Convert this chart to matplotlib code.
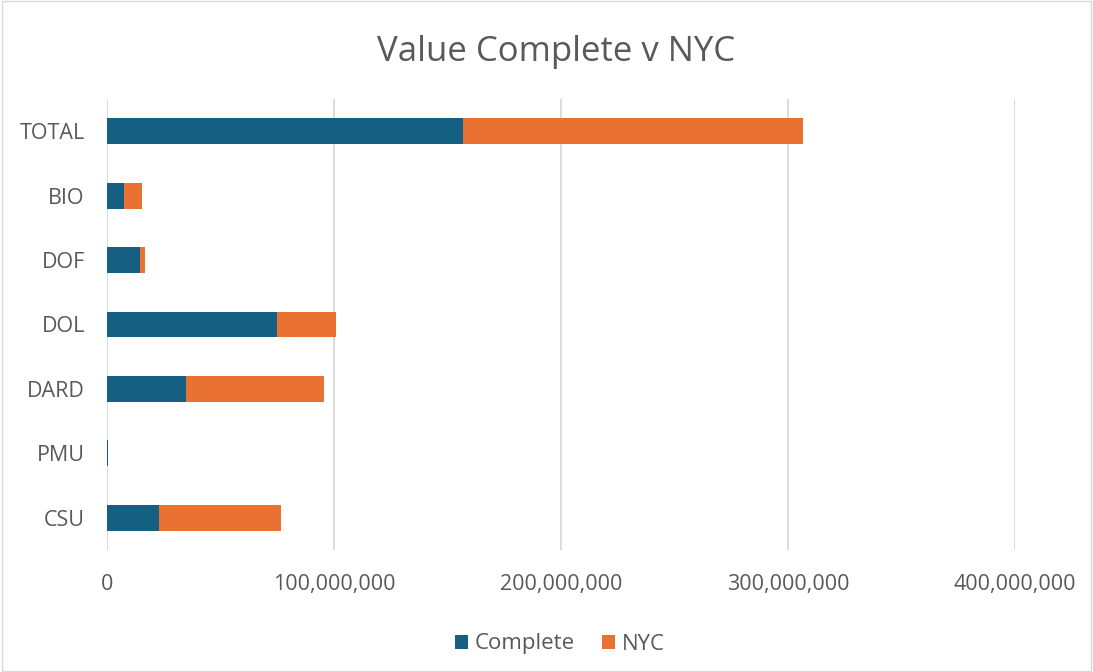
import matplotlib.pyplot as plt
from matplotlib.ticker import FuncFormatter

plt.rcParams['font.family'] = ['Open Sans', 'DejaVu Sans']

categories = ['CSU', 'PMU', 'DARD', 'DOL', 'DOF', 'BIO', 'TOTAL']
complete = [22.8e6, 0.4e6, 35.0e6, 75.1e6, 14.6e6, 7.3e6, 156.9e6]
nyc = [53.8e6, 0.0, 60.7e6, 25.8e6, 2.3e6, 7.9e6, 149.8e6]
xticks = [0, 100e6, 200e6, 300e6, 400e6]

blue = '#156082'
orange = '#e97132'
grey = '#595959'

fig = plt.figure(figsize=(10.93, 6.72), dpi=100)
ax = fig.add_axes([107 / 1093, 1 - 550 / 672, (1015 - 107) / 1093, (550 - 99) / 672])

y = range(len(categories))
ax.barh(y, complete, height=0.4, color=blue, label='Complete')
ax.barh(y, nyc, left=complete, height=0.4, color=orange, label='NYC')

ax.set_xlim(0, 400e6)
ax.set_ylim(-0.5, len(categories) - 0.5)
ax.set_xticks(xticks)
ax.xaxis.set_major_formatter(FuncFormatter(lambda v, p: f'{v:,.0f}'))
ax.set_yticks(list(y))
ax.set_yticklabels(categories)
ax.grid(axis='x', color='#d9d9d9', linewidth=1.3)
ax.set_axisbelow(True)
for s in ax.spines.values():
    s.set_visible(False)
ax.tick_params(length=0, labelsize=15.5, labelcolor=grey)
ax.tick_params(axis='x', pad=17)
ax.tick_params(axis='y', pad=16)

fig.text(556 / 1093, 1 - 52 / 672, 'Value Complete v NYC', ha='center', va='center',
         fontsize=25, color=grey)
fig.legend(loc='center', bbox_to_anchor=(560 / 1093, 1 - 644 / 672), ncol=2, frameon=False,
           fontsize=16, labelcolor=grey, handlelength=0.6, handleheight=0.6,
           handletextpad=0.3, columnspacing=1.2)

fig.patches.append(plt.Rectangle((0.002, 0.002), 0.996, 0.996, transform=fig.transFigure,
                                 fill=False, edgecolor='#d9d9d9', linewidth=1))
fig.savefig('out.png', dpi=100)
